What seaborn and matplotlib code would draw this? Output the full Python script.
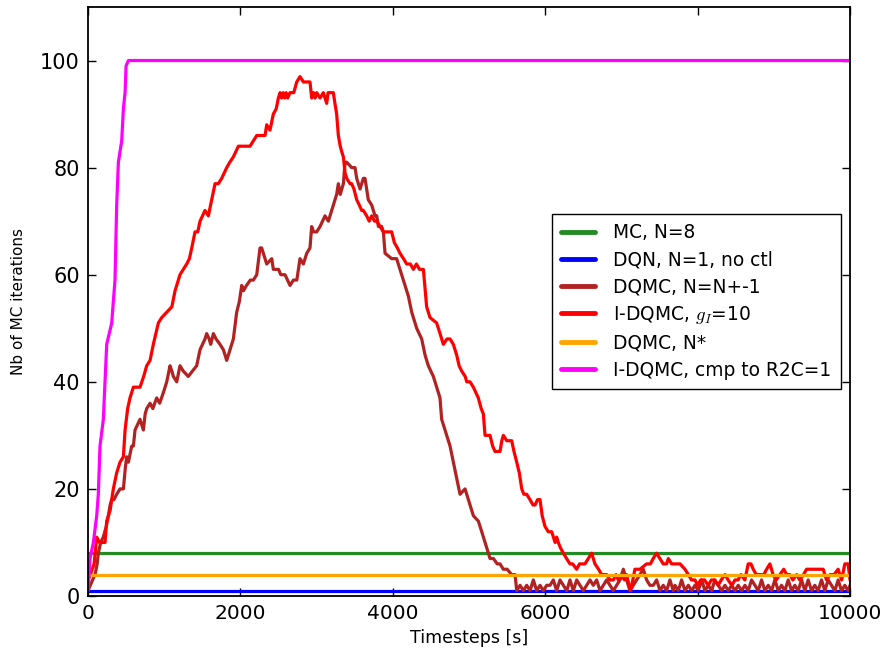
import matplotlib
matplotlib.use("Agg")
import matplotlib.pyplot as plt
import seaborn as sns
import pandas as pd

# ---------------- data ----------------
labels = ["MC, N=8", "DQN, N=1, no ctl", "DQMC, N=N+-1",
          "I-DQMC, $g_I$=10", "DQMC, N*", "I-DQMC, cmp to R2C=1"]
colors = ["#228B22", "#0000FF", "#B22222", "#FF0000", "#FFA500", "#FF00FF"]

mc_t = [0, 10000]
mc_y = [8, 8]

dqn_t = [0, 10000]
dqn_y = [1, 1]

nstar_t = [0, 10000]
nstar_y = [4, 4]

magenta_t = [0, 26, 70, 114, 135, 157, 201, 245, 311, 332, 354, 376, 398,
             442, 464, 486, 499, 530, 10000]
magenta_y = [1, 7, 10, 15, 19, 28, 33, 47, 51, 55, 59, 73, 81,
             85, 91, 94, 99, 100, 100]

red_t = [0, 30, 80, 114, 150, 223, 245, 290, 332, 376, 420, 464, 486, 520,
         551, 595, 682, 730, 770, 814, 857, 890, 923, 967, 1033, 1100, 1142,
         1164, 1207, 1250, 1295, 1330, 1361, 1404, 1440, 1470, 1535, 1579,
         1623, 1667, 1710, 1754, 1820, 1860, 1907, 1973, 2126, 2170, 2214,
         2323, 2345, 2388, 2432, 2470, 2498, 2520, 2540, 2560, 2580, 2600,
         2620, 2650, 2700, 2739, 2782, 2826, 2913, 2935, 2960, 2980, 3001,
         3045, 3088, 3110, 3132, 3150, 3176, 3219, 3240, 3263, 3285, 3310,
         3329, 3351, 3373, 3395, 3438, 3460, 3490, 3526, 3560, 3592, 3613,
         3657, 3690, 3723, 3760, 3789, 3832, 3876, 3985, 4020, 4060, 4094,
         4140, 4182, 4230, 4270, 4310, 4350, 4401, 4420, 4444, 4488, 4575,
         4620, 4663, 4710, 4751, 4794, 4838, 4870, 4904, 4950, 4970, 5013,
         5057, 5090, 5122, 5160, 5188, 5210, 5276, 5310, 5341, 5407, 5430,
         5451, 5495, 5560, 5590, 5626, 5660, 5692, 5720, 5757, 5800, 5840,
         5866, 5900, 5932, 5960, 5997, 6040, 6085, 6107, 6130, 6150, 6172,
         6200, 6238, 6280, 6325, 6360, 6412, 6450, 6480, 6522, 6566, 6609,
         6653, 6700, 6740, 6806, 6850, 6894, 6930, 6959, 7000, 7040, 7068,
         7100, 7120, 7150, 7177, 7244, 7330, 7380, 7417, 7461, 7505, 7549,
         7593, 7615, 7660, 7769, 7834, 7878, 7920, 7965, 8000, 8040, 8090,
         8140, 8180, 8220, 8270, 8310, 8360, 8400, 8450, 8490, 8530, 8570,
         8620, 8664, 8700, 8730, 8770, 8820, 8870, 8905, 8949, 8990, 9030,
         9080, 9130, 9170, 9210, 9250, 9300, 9340, 9390, 9429, 9500, 9560,
         9648, 9692, 9740, 9790, 9844, 9890, 9932, 9975, 10000]
red_y = [3, 4, 6, 11, 10, 10, 14, 16, 20, 23, 25, 26, 31, 35,
         37, 39, 39, 41, 43, 44, 47, 49, 51, 52, 53, 54, 57,
         58, 60, 61, 62, 63, 65, 68, 68, 70, 72, 71,
         74, 77, 77, 78, 80, 81, 82, 84, 84, 85, 86,
         86, 88, 87, 90, 91, 93, 94, 93, 94, 93, 94,
         93, 94, 94, 96, 97, 96, 96, 93, 94, 93, 94,
         93, 94, 93, 92, 94, 94, 94, 92, 90, 86, 84,
         83, 82, 79, 78, 77, 77, 76, 74, 73, 72, 72,
         71, 70, 71, 70, 70, 69, 68, 68, 66, 65, 64,
         63, 62, 62, 61, 62, 61, 61, 58, 54, 52, 51,
         49, 47, 48, 48, 47, 45, 43, 42, 41, 40, 40,
         39, 38, 37, 35, 34, 30, 30, 28, 27, 27, 29,
         30, 29, 29, 27, 25, 23, 20, 19, 19, 18, 17,
         17, 18, 18, 15, 13, 12, 12, 11, 10, 11, 10,
         9, 8, 7, 6, 6, 5, 6, 6, 6, 7, 8,
         6, 5, 4, 4, 3, 3, 4, 3, 4, 3, 4,
         2, 1, 3, 5, 5, 6, 6, 7, 8, 7, 6,
         6, 7, 6, 6, 5, 4, 3, 3, 2, 3, 3,
         2, 3, 3, 2, 3, 4, 3, 2, 3, 3, 4,
         3, 6, 6, 5, 4, 4, 4, 5, 6, 4, 3,
         4, 5, 4, 4, 3, 4, 3, 4, 5, 5, 5,
         5, 3, 4, 4, 5, 3, 6, 6, 3]

brown_t = [0, 30, 60, 92, 120, 135, 166, 200, 240, 267, 290, 311, 340, 376,
           420, 464, 490, 507, 530, 573, 595, 617, 650, 682, 726, 750, 770,
           814, 850, 901, 940, 989, 1033, 1076, 1100, 1120, 1164, 1207, 1250,
           1316, 1370, 1426, 1470, 1535, 1557, 1590, 1610, 1645, 1680, 1732,
           1776, 1820, 1864, 1907, 1951, 1986, 2017, 2040, 2080, 2130, 2170,
           2214, 2257, 2279, 2345, 2411, 2432, 2470, 2500, 2530, 2585, 2651,
           2695, 2740, 2782, 2826, 2870, 2913, 2935, 2960, 3001, 3045, 3110,
           3154, 3198, 3263, 3285, 3310, 3351, 3373, 3395, 3460, 3482, 3504,
           3526, 3570, 3613, 3635, 3678, 3723, 3766, 3789, 3811, 3854, 3876,
           3898, 3985, 4050, 4094, 4138, 4204, 4248, 4313, 4379, 4423, 4466,
           4532, 4597, 4619, 4641, 4685, 4751, 4794, 4838, 4882, 4948, 5013,
           5057, 5122, 5167, 5232, 5276, 5320, 5370, 5407, 5450, 5500, 5560,
           5604,
           5626, 5670, 5713, 5757, 5801, 5844, 5888, 5932, 5976, 6019, 6063,
           6107, 6150, 6194, 6238, 6282, 6325, 6369, 6413, 6456, 6500, 6544,
           6588, 6631, 6675, 6719, 6763, 6806, 6850, 6894, 6937, 6981, 7025,
           7069, 7112, 7156, 7200, 7243, 7287, 7331, 7374, 7418, 7462, 7506,
           7549, 7593, 7637, 7680,
           7703, 7747, 7790, 7834, 7878, 7922, 7965, 8009, 8053, 8096, 8140,
           8184, 8227, 8271, 8315, 8359, 8402, 8446, 8490, 8533, 8577, 8621,
           8664, 8708, 8752, 8796, 8839, 8883, 8927, 8970, 9014, 9058, 9101,
           9145, 9189, 9233, 9276, 9320, 9364, 9407, 9451, 9495, 9538, 9582,
           9626, 9670, 9713, 9757, 9801, 9844, 9888, 9932, 9975, 10000]
brown_y = [1, 2, 3, 4, 6, 8, 10, 11, 13, 15, 17, 18, 18, 19,
           20, 20, 24, 26, 25, 28, 28, 31, 32, 33, 31, 34, 35,
           36, 35, 37, 36, 38, 40, 43, 42, 41, 40, 43, 42,
           41, 42, 43, 46, 48, 49, 48, 47, 49, 48, 47,
           46, 44, 46, 48, 53, 55, 58, 57, 58, 59, 59,
           60, 65, 65, 62, 63, 61, 61, 61, 60, 60, 58,
           59, 59, 63, 62, 64, 65, 69, 68, 68, 69, 71,
           70, 72, 75, 77, 75, 77, 81, 81, 80, 80, 80,
           78, 76, 78, 78, 74, 73, 71, 71, 69, 69, 68,
           64, 63, 63, 61, 59, 56, 53, 50, 48, 45, 43,
           41, 38, 37, 33, 31, 28, 25, 22, 19, 20, 17,
           15, 14, 12, 9, 7, 7, 6, 6, 5, 5, 4,
           4,
           1, 2, 1, 2, 1, 3, 1, 2, 1, 2, 2,
           3, 1, 3, 2, 1, 3, 1, 3, 2, 1, 2,
           3, 2, 3, 1, 2, 3, 2, 1, 2, 3, 5,
           3, 1, 2, 3, 4, 5, 3, 2, 2, 3, 1,
           2, 1, 3, 1,
           2, 1, 3, 1, 2, 1, 2, 1, 3, 1, 2,
           1, 3, 2, 1, 2, 1, 2, 1, 2, 1, 2,
           1, 3, 2, 1, 3, 1, 2, 1, 3, 1, 2,
           1, 3, 1, 2, 1, 3, 1, 3, 1, 2, 1,
           3, 1, 3, 2, 1, 3, 1, 2, 1, 2]

xticks = [0, 2000, 4000, 6000, 8000, 10000]
yticks = [0, 20, 40, 60, 80, 100]

# ---------------- style ----------------
sns.set_theme(style="white")
plt.rcParams["font.family"] = ["DejaVu Sans"]
plt.rcParams["mathtext.fontset"] = "cm"
plt.rcParams.update({
    "text.color": "black", "axes.labelcolor": "black",
    "xtick.direction": "in", "ytick.direction": "in",
    "xtick.top": True, "ytick.right": True,
    "xtick.bottom": True, "ytick.left": True,
    "xtick.major.size": 6, "ytick.major.size": 6,
    "xtick.major.width": 1.0, "ytick.major.width": 1.0,
    "xtick.color": "black", "ytick.color": "black",
    "xtick.labelcolor": "black", "ytick.labelcolor": "black",
    "axes.edgecolor": "black", "axes.linewidth": 1.3,
})

fig = plt.figure(figsize=(8.91, 6.58), dpi=100)
ax = fig.add_axes([0.0988, 0.0942, 0.8552, 0.8952])

series = [(mc_t, mc_y), (dqn_t, dqn_y), (brown_t, brown_y),
          (red_t, red_y), (nstar_t, nstar_y), (magenta_t, magenta_y)]

for (t, y), lab, col in zip(series, labels, colors):
    df = pd.DataFrame({"t": t, "y": y})
    sns.lineplot(data=df, x="t", y="y", color=col, linewidth=2.3,
                 label=lab, ax=ax, estimator=None, sort=False)

ax.set_xlim(0, 10000)
ax.set_ylim(0, 110)
ax.set_xticks(xticks)
ax.set_yticks(yticks)
ax.tick_params(axis="x", labelsize=14.5, pad=6)
ax.tick_params(axis="y", labelsize=15, pad=6)
ax.set_xlabel("Timesteps [s]", fontsize=12.5, labelpad=4)
ax.set_ylabel("Nb of MC iterations", fontsize=11, labelpad=10)

leg = ax.legend(loc="center right", fontsize=13.4, frameon=True,
                fancybox=False, framealpha=1, edgecolor="black",
                handlelength=1.8, handletextpad=1.0, labelspacing=0.42,
                borderpad=0.5, borderaxespad=0.5)
leg.get_frame().set_linewidth(1.0)
for txt in leg.get_texts():
    txt.set_color("black")
for h in leg.get_lines():
    h.set_linewidth(3.5)

fig.savefig("out.png", dpi=100)
